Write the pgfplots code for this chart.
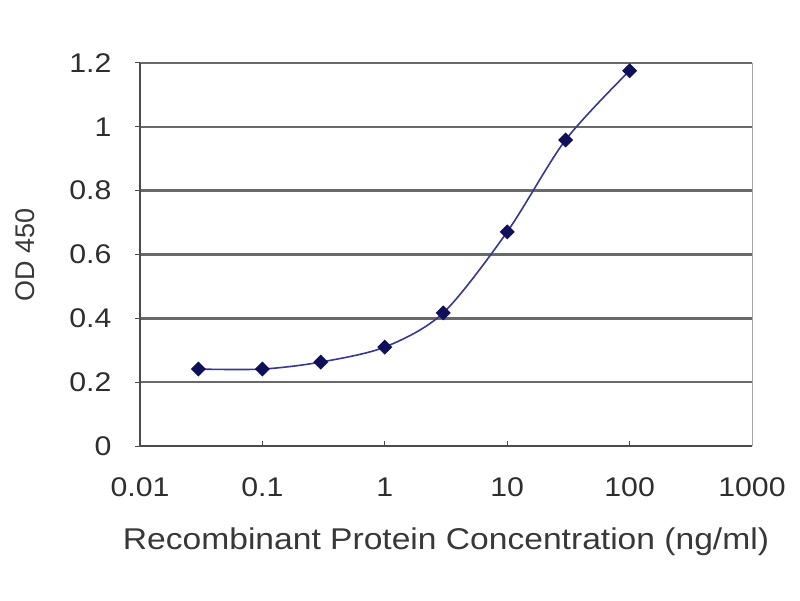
\documentclass[border=0pt]{standalone}
\usepackage{graphicx}
\usepackage{pgfplots}
\pgfplotsset{compat=1.18}
\usepackage{fontspec}
\setmainfont{Liberation Sans}
\definecolor{gridgray}{RGB}{105,105,105}
\definecolor{navy}{RGB}{15,15,90}
\definecolor{linecol}{RGB}{55,55,150}
\newcommand\sx[1]{\scalebox{1.12}[1]{#1}}
\begin{document}
\begin{tikzpicture}[x=1pt,y=1pt]
\useasboundingbox (0,0) rectangle (800,600);
\fill[white] (0,0) rectangle (800,600);
\begin{axis}[
  at={(140pt,154pt)}, anchor=south west,
  scale only axis, width=612pt, height=383pt,
  xmode=log, xmin=0.01, xmax=1000,
  ymin=0, ymax=1.2,
  xtick={0.01,0.1,1,10,100,1000},
  xticklabels={\sx{0.01},\sx{0.1},\sx{1},\sx{10},\sx{100},\sx{1000}},
  ytick={0,0.2,0.4,0.6,0.8,1,1.2},
  yticklabels={\sx{0},\sx{0.2},\sx{0.4},\sx{0.6},\sx{0.8},\sx{1},\sx{1.2}},
  xminorticks=false,
  /pgf/number format/assume math mode=true,
  tick label style={font=\fontsize{27}{30}\selectfont, text=black!82},
  xlabel={\scalebox{1.12}[1]{Recombinant Protein Concentration (ng/ml)}},
  ylabel={OD 450},
  xlabel style={font=\fontsize{30}{34}\selectfont, text=black!78,
    at={(axis description cs:0.5,-0.25)}, anchor=center},
  ylabel style={font=\fontsize{27}{30}\selectfont, text=black!78,
    at={(axis description cs:-0.187,0.5)}, anchor=center},
  ymajorgrids, grid style={gridgray, line width=2.5pt},
  axis x line*=bottom, axis y line*=left,
  axis line style={black!70, line width=1.3pt},
  tick style={black!70, line width=1pt},
  xtick align=inside, ytick align=outside,
  major tick length=5pt,
  xticklabel style={yshift=-28pt},
  yticklabel style={xshift=-20pt},
  clip=false,
]
\draw[gray!70, line width=1pt] (rel axis cs:1,0) -- (rel axis cs:1,1);
\addplot[linecol, line width=1.6pt, smooth, tension=0.5,
  mark=square*, mark size=4.5pt, mark options={navy, fill=navy, rotate=45}]
  coordinates {
  (0.03,0.241) (0.1,0.241) (0.3,0.263) (1,0.31) (3,0.417) (10,0.671) (30,0.959) (100,1.176)
  };
\end{axis}
\end{tikzpicture}
\end{document}
